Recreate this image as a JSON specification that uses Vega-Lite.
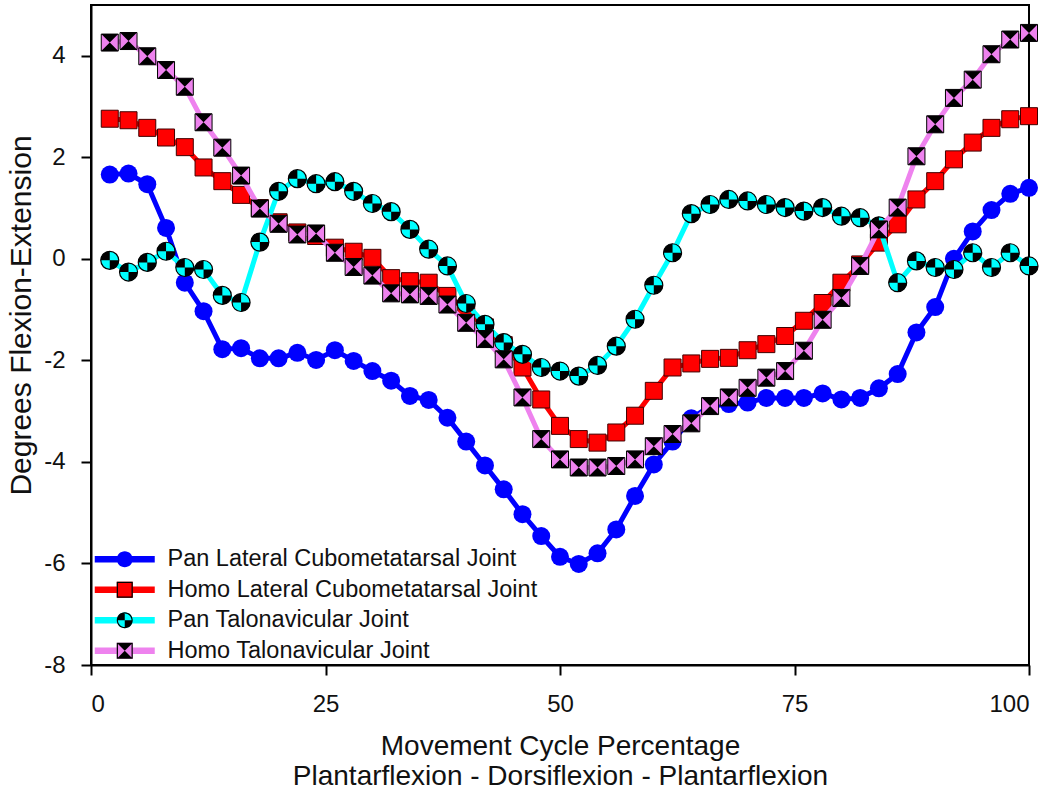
{
  "$schema": "https://vega.github.io/schema/vega-lite/v6.json",
  "autosize": {"type": "none"},
  "padding": {"left": 91, "top": 5, "right": 21, "bottom": 129},
  "width": 938,
  "height": 660,
  "background": "white",
  "config": {
    "font": "Liberation Sans",
    "view": {"stroke": "black", "strokeWidth": 2},
    "axis": {"grid": false, "domainColor": "black", "domainWidth": 2, "tickColor": "black", "tickWidth": 2, "labelColor": "#111", "titleColor": "#111", "titleFontWeight": "normal", "labelFont": "Liberation Sans", "titleFont": "Liberation Sans"}
  },
  "data": {"values": [
    {"series": "Pan Lateral Cubometatarsal Joint", "x": 2, "y": 1.66},
    {"series": "Pan Lateral Cubometatarsal Joint", "x": 4, "y": 1.68},
    {"series": "Pan Lateral Cubometatarsal Joint", "x": 6, "y": 1.47},
    {"series": "Pan Lateral Cubometatarsal Joint", "x": 8, "y": 0.61},
    {"series": "Pan Lateral Cubometatarsal Joint", "x": 10, "y": -0.47},
    {"series": "Pan Lateral Cubometatarsal Joint", "x": 12, "y": -1.03},
    {"series": "Pan Lateral Cubometatarsal Joint", "x": 14, "y": -1.78},
    {"series": "Pan Lateral Cubometatarsal Joint", "x": 16, "y": -1.76},
    {"series": "Pan Lateral Cubometatarsal Joint", "x": 18, "y": -1.96},
    {"series": "Pan Lateral Cubometatarsal Joint", "x": 20, "y": -1.96},
    {"series": "Pan Lateral Cubometatarsal Joint", "x": 22, "y": -1.85},
    {"series": "Pan Lateral Cubometatarsal Joint", "x": 24, "y": -1.99},
    {"series": "Pan Lateral Cubometatarsal Joint", "x": 26, "y": -1.8},
    {"series": "Pan Lateral Cubometatarsal Joint", "x": 28, "y": -2.01},
    {"series": "Pan Lateral Cubometatarsal Joint", "x": 30, "y": -2.21},
    {"series": "Pan Lateral Cubometatarsal Joint", "x": 32, "y": -2.4},
    {"series": "Pan Lateral Cubometatarsal Joint", "x": 34, "y": -2.7},
    {"series": "Pan Lateral Cubometatarsal Joint", "x": 36, "y": -2.78},
    {"series": "Pan Lateral Cubometatarsal Joint", "x": 38, "y": -3.13},
    {"series": "Pan Lateral Cubometatarsal Joint", "x": 40, "y": -3.6},
    {"series": "Pan Lateral Cubometatarsal Joint", "x": 42, "y": -4.07},
    {"series": "Pan Lateral Cubometatarsal Joint", "x": 44, "y": -4.54},
    {"series": "Pan Lateral Cubometatarsal Joint", "x": 46, "y": -5.03},
    {"series": "Pan Lateral Cubometatarsal Joint", "x": 48, "y": -5.46},
    {"series": "Pan Lateral Cubometatarsal Joint", "x": 50, "y": -5.87},
    {"series": "Pan Lateral Cubometatarsal Joint", "x": 52, "y": -6.01},
    {"series": "Pan Lateral Cubometatarsal Joint", "x": 54, "y": -5.8},
    {"series": "Pan Lateral Cubometatarsal Joint", "x": 56, "y": -5.33},
    {"series": "Pan Lateral Cubometatarsal Joint", "x": 58, "y": -4.67},
    {"series": "Pan Lateral Cubometatarsal Joint", "x": 60, "y": -4.05},
    {"series": "Pan Lateral Cubometatarsal Joint", "x": 62, "y": -3.6},
    {"series": "Pan Lateral Cubometatarsal Joint", "x": 64, "y": -3.14},
    {"series": "Pan Lateral Cubometatarsal Joint", "x": 66, "y": -2.9},
    {"series": "Pan Lateral Cubometatarsal Joint", "x": 68, "y": -2.86},
    {"series": "Pan Lateral Cubometatarsal Joint", "x": 70, "y": -2.83},
    {"series": "Pan Lateral Cubometatarsal Joint", "x": 72, "y": -2.74},
    {"series": "Pan Lateral Cubometatarsal Joint", "x": 74, "y": -2.74},
    {"series": "Pan Lateral Cubometatarsal Joint", "x": 76, "y": -2.74},
    {"series": "Pan Lateral Cubometatarsal Joint", "x": 78, "y": -2.65},
    {"series": "Pan Lateral Cubometatarsal Joint", "x": 80, "y": -2.77},
    {"series": "Pan Lateral Cubometatarsal Joint", "x": 82, "y": -2.74},
    {"series": "Pan Lateral Cubometatarsal Joint", "x": 84, "y": -2.55},
    {"series": "Pan Lateral Cubometatarsal Joint", "x": 86, "y": -2.27},
    {"series": "Pan Lateral Cubometatarsal Joint", "x": 88, "y": -1.45},
    {"series": "Pan Lateral Cubometatarsal Joint", "x": 90, "y": -0.95},
    {"series": "Pan Lateral Cubometatarsal Joint", "x": 92, "y": 0.0},
    {"series": "Pan Lateral Cubometatarsal Joint", "x": 94, "y": 0.54},
    {"series": "Pan Lateral Cubometatarsal Joint", "x": 96, "y": 0.96},
    {"series": "Pan Lateral Cubometatarsal Joint", "x": 98, "y": 1.28},
    {"series": "Pan Lateral Cubometatarsal Joint", "x": 100, "y": 1.4},
    {"series": "Homo Lateral Cubometatarsal Joint", "x": 2, "y": 2.76},
    {"series": "Homo Lateral Cubometatarsal Joint", "x": 4, "y": 2.73},
    {"series": "Homo Lateral Cubometatarsal Joint", "x": 6, "y": 2.58},
    {"series": "Homo Lateral Cubometatarsal Joint", "x": 8, "y": 2.39},
    {"series": "Homo Lateral Cubometatarsal Joint", "x": 10, "y": 2.2},
    {"series": "Homo Lateral Cubometatarsal Joint", "x": 12, "y": 1.8},
    {"series": "Homo Lateral Cubometatarsal Joint", "x": 14, "y": 1.53},
    {"series": "Homo Lateral Cubometatarsal Joint", "x": 16, "y": 1.26},
    {"series": "Homo Lateral Cubometatarsal Joint", "x": 18, "y": 1.0},
    {"series": "Homo Lateral Cubometatarsal Joint", "x": 20, "y": 0.72},
    {"series": "Homo Lateral Cubometatarsal Joint", "x": 22, "y": 0.52},
    {"series": "Homo Lateral Cubometatarsal Joint", "x": 24, "y": 0.45},
    {"series": "Homo Lateral Cubometatarsal Joint", "x": 26, "y": 0.22},
    {"series": "Homo Lateral Cubometatarsal Joint", "x": 28, "y": 0.14},
    {"series": "Homo Lateral Cubometatarsal Joint", "x": 30, "y": 0.02},
    {"series": "Homo Lateral Cubometatarsal Joint", "x": 32, "y": -0.38},
    {"series": "Homo Lateral Cubometatarsal Joint", "x": 34, "y": -0.44},
    {"series": "Homo Lateral Cubometatarsal Joint", "x": 36, "y": -0.47},
    {"series": "Homo Lateral Cubometatarsal Joint", "x": 38, "y": -0.73},
    {"series": "Homo Lateral Cubometatarsal Joint", "x": 40, "y": -1.0},
    {"series": "Homo Lateral Cubometatarsal Joint", "x": 42, "y": -1.35},
    {"series": "Homo Lateral Cubometatarsal Joint", "x": 44, "y": -1.7},
    {"series": "Homo Lateral Cubometatarsal Joint", "x": 46, "y": -2.14},
    {"series": "Homo Lateral Cubometatarsal Joint", "x": 48, "y": -2.77},
    {"series": "Homo Lateral Cubometatarsal Joint", "x": 50, "y": -3.29},
    {"series": "Homo Lateral Cubometatarsal Joint", "x": 52, "y": -3.55},
    {"series": "Homo Lateral Cubometatarsal Joint", "x": 54, "y": -3.62},
    {"series": "Homo Lateral Cubometatarsal Joint", "x": 56, "y": -3.42},
    {"series": "Homo Lateral Cubometatarsal Joint", "x": 58, "y": -3.09},
    {"series": "Homo Lateral Cubometatarsal Joint", "x": 60, "y": -2.6},
    {"series": "Homo Lateral Cubometatarsal Joint", "x": 62, "y": -2.14},
    {"series": "Homo Lateral Cubometatarsal Joint", "x": 64, "y": -2.06},
    {"series": "Homo Lateral Cubometatarsal Joint", "x": 66, "y": -1.97},
    {"series": "Homo Lateral Cubometatarsal Joint", "x": 68, "y": -1.95},
    {"series": "Homo Lateral Cubometatarsal Joint", "x": 70, "y": -1.8},
    {"series": "Homo Lateral Cubometatarsal Joint", "x": 72, "y": -1.68},
    {"series": "Homo Lateral Cubometatarsal Joint", "x": 74, "y": -1.52},
    {"series": "Homo Lateral Cubometatarsal Joint", "x": 76, "y": -1.22},
    {"series": "Homo Lateral Cubometatarsal Joint", "x": 78, "y": -0.87},
    {"series": "Homo Lateral Cubometatarsal Joint", "x": 80, "y": -0.47},
    {"series": "Homo Lateral Cubometatarsal Joint", "x": 82, "y": -0.11},
    {"series": "Homo Lateral Cubometatarsal Joint", "x": 84, "y": 0.32},
    {"series": "Homo Lateral Cubometatarsal Joint", "x": 86, "y": 0.68},
    {"series": "Homo Lateral Cubometatarsal Joint", "x": 88, "y": 1.17},
    {"series": "Homo Lateral Cubometatarsal Joint", "x": 90, "y": 1.53},
    {"series": "Homo Lateral Cubometatarsal Joint", "x": 92, "y": 1.96},
    {"series": "Homo Lateral Cubometatarsal Joint", "x": 94, "y": 2.29},
    {"series": "Homo Lateral Cubometatarsal Joint", "x": 96, "y": 2.58},
    {"series": "Homo Lateral Cubometatarsal Joint", "x": 98, "y": 2.75},
    {"series": "Homo Lateral Cubometatarsal Joint", "x": 100, "y": 2.81},
    {"series": "Pan Talonavicular Joint", "x": 2, "y": -0.03},
    {"series": "Pan Talonavicular Joint", "x": 4, "y": -0.26},
    {"series": "Pan Talonavicular Joint", "x": 6, "y": -0.07},
    {"series": "Pan Talonavicular Joint", "x": 8, "y": 0.15},
    {"series": "Pan Talonavicular Joint", "x": 10, "y": -0.17},
    {"series": "Pan Talonavicular Joint", "x": 12, "y": -0.21},
    {"series": "Pan Talonavicular Joint", "x": 14, "y": -0.72},
    {"series": "Pan Talonavicular Joint", "x": 16, "y": -0.86},
    {"series": "Pan Talonavicular Joint", "x": 18, "y": 0.33},
    {"series": "Pan Talonavicular Joint", "x": 20, "y": 1.33},
    {"series": "Pan Talonavicular Joint", "x": 22, "y": 1.58},
    {"series": "Pan Talonavicular Joint", "x": 24, "y": 1.48},
    {"series": "Pan Talonavicular Joint", "x": 26, "y": 1.52},
    {"series": "Pan Talonavicular Joint", "x": 28, "y": 1.33},
    {"series": "Pan Talonavicular Joint", "x": 30, "y": 1.09},
    {"series": "Pan Talonavicular Joint", "x": 32, "y": 0.93},
    {"series": "Pan Talonavicular Joint", "x": 34, "y": 0.58},
    {"series": "Pan Talonavicular Joint", "x": 36, "y": 0.19},
    {"series": "Pan Talonavicular Joint", "x": 38, "y": -0.14},
    {"series": "Pan Talonavicular Joint", "x": 40, "y": -0.88},
    {"series": "Pan Talonavicular Joint", "x": 42, "y": -1.29},
    {"series": "Pan Talonavicular Joint", "x": 44, "y": -1.65},
    {"series": "Pan Talonavicular Joint", "x": 46, "y": -1.88},
    {"series": "Pan Talonavicular Joint", "x": 48, "y": -2.14},
    {"series": "Pan Talonavicular Joint", "x": 50, "y": -2.21},
    {"series": "Pan Talonavicular Joint", "x": 52, "y": -2.31},
    {"series": "Pan Talonavicular Joint", "x": 54, "y": -2.1},
    {"series": "Pan Talonavicular Joint", "x": 56, "y": -1.72},
    {"series": "Pan Talonavicular Joint", "x": 58, "y": -1.19},
    {"series": "Pan Talonavicular Joint", "x": 60, "y": -0.52},
    {"series": "Pan Talonavicular Joint", "x": 62, "y": 0.12},
    {"series": "Pan Talonavicular Joint", "x": 64, "y": 0.89},
    {"series": "Pan Talonavicular Joint", "x": 66, "y": 1.07},
    {"series": "Pan Talonavicular Joint", "x": 68, "y": 1.17},
    {"series": "Pan Talonavicular Joint", "x": 70, "y": 1.14},
    {"series": "Pan Talonavicular Joint", "x": 72, "y": 1.07},
    {"series": "Pan Talonavicular Joint", "x": 74, "y": 1.01},
    {"series": "Pan Talonavicular Joint", "x": 76, "y": 0.94},
    {"series": "Pan Talonavicular Joint", "x": 78, "y": 1.01},
    {"series": "Pan Talonavicular Joint", "x": 80, "y": 0.84},
    {"series": "Pan Talonavicular Joint", "x": 82, "y": 0.81},
    {"series": "Pan Talonavicular Joint", "x": 84, "y": 0.65},
    {"series": "Pan Talonavicular Joint", "x": 86, "y": -0.47},
    {"series": "Pan Talonavicular Joint", "x": 88, "y": -0.04},
    {"series": "Pan Talonavicular Joint", "x": 90, "y": -0.17},
    {"series": "Pan Talonavicular Joint", "x": 92, "y": -0.21},
    {"series": "Pan Talonavicular Joint", "x": 94, "y": 0.12},
    {"series": "Pan Talonavicular Joint", "x": 96, "y": -0.17},
    {"series": "Pan Talonavicular Joint", "x": 98, "y": 0.12},
    {"series": "Pan Talonavicular Joint", "x": 100, "y": -0.14},
    {"series": "Homo Talonavicular Joint", "x": 2, "y": 4.26},
    {"series": "Homo Talonavicular Joint", "x": 4, "y": 4.29},
    {"series": "Homo Talonavicular Joint", "x": 6, "y": 3.99},
    {"series": "Homo Talonavicular Joint", "x": 8, "y": 3.72},
    {"series": "Homo Talonavicular Joint", "x": 10, "y": 3.39},
    {"series": "Homo Talonavicular Joint", "x": 12, "y": 2.69},
    {"series": "Homo Talonavicular Joint", "x": 14, "y": 2.19},
    {"series": "Homo Talonavicular Joint", "x": 16, "y": 1.64},
    {"series": "Homo Talonavicular Joint", "x": 18, "y": 0.99},
    {"series": "Homo Talonavicular Joint", "x": 20, "y": 0.69},
    {"series": "Homo Talonavicular Joint", "x": 22, "y": 0.48},
    {"series": "Homo Talonavicular Joint", "x": 24, "y": 0.5},
    {"series": "Homo Talonavicular Joint", "x": 26, "y": 0.12},
    {"series": "Homo Talonavicular Joint", "x": 28, "y": -0.16},
    {"series": "Homo Talonavicular Joint", "x": 30, "y": -0.33},
    {"series": "Homo Talonavicular Joint", "x": 32, "y": -0.68},
    {"series": "Homo Talonavicular Joint", "x": 34, "y": -0.7},
    {"series": "Homo Talonavicular Joint", "x": 36, "y": -0.73},
    {"series": "Homo Talonavicular Joint", "x": 38, "y": -0.9},
    {"series": "Homo Talonavicular Joint", "x": 40, "y": -1.26},
    {"series": "Homo Talonavicular Joint", "x": 42, "y": -1.58},
    {"series": "Homo Talonavicular Joint", "x": 44, "y": -1.98},
    {"series": "Homo Talonavicular Joint", "x": 46, "y": -2.73},
    {"series": "Homo Talonavicular Joint", "x": 48, "y": -3.55},
    {"series": "Homo Talonavicular Joint", "x": 50, "y": -3.95},
    {"series": "Homo Talonavicular Joint", "x": 52, "y": -4.11},
    {"series": "Homo Talonavicular Joint", "x": 54, "y": -4.11},
    {"series": "Homo Talonavicular Joint", "x": 56, "y": -4.08},
    {"series": "Homo Talonavicular Joint", "x": 58, "y": -3.95},
    {"series": "Homo Talonavicular Joint", "x": 60, "y": -3.69},
    {"series": "Homo Talonavicular Joint", "x": 62, "y": -3.45},
    {"series": "Homo Talonavicular Joint", "x": 64, "y": -3.24},
    {"series": "Homo Talonavicular Joint", "x": 66, "y": -2.9},
    {"series": "Homo Talonavicular Joint", "x": 68, "y": -2.73},
    {"series": "Homo Talonavicular Joint", "x": 70, "y": -2.54},
    {"series": "Homo Talonavicular Joint", "x": 72, "y": -2.34},
    {"series": "Homo Talonavicular Joint", "x": 74, "y": -2.21},
    {"series": "Homo Talonavicular Joint", "x": 76, "y": -1.81},
    {"series": "Homo Talonavicular Joint", "x": 78, "y": -1.2},
    {"series": "Homo Talonavicular Joint", "x": 80, "y": -0.77},
    {"series": "Homo Talonavicular Joint", "x": 82, "y": -0.14},
    {"series": "Homo Talonavicular Joint", "x": 84, "y": 0.58},
    {"series": "Homo Talonavicular Joint", "x": 86, "y": 1.01},
    {"series": "Homo Talonavicular Joint", "x": 88, "y": 2.02},
    {"series": "Homo Talonavicular Joint", "x": 90, "y": 2.65},
    {"series": "Homo Talonavicular Joint", "x": 92, "y": 3.17},
    {"series": "Homo Talonavicular Joint", "x": 94, "y": 3.53},
    {"series": "Homo Talonavicular Joint", "x": 96, "y": 4.03},
    {"series": "Homo Talonavicular Joint", "x": 98, "y": 4.32},
    {"series": "Homo Talonavicular Joint", "x": 100, "y": 4.45}
  ]},
  "encoding": {
    "x": {"field": "x", "type": "quantitative", "scale": {"domain": [0, 100], "nice": false, "zero": false},
      "axis": {"values": [0, 25, 50, 75, 100], "title": ["Movement Cycle Percentage", "Plantarflexion - Dorsiflexion - Plantarflexion"], "tickSize": 10, "labelPadding": 17, "labelFontSize": 24, "titleFontSize": 28, "titleLineHeight": 30, "titlePadding": 16}},
    "y": {"field": "y", "type": "quantitative", "scale": {"domain": [-8, 5], "nice": false, "zero": false},
      "axis": {"values": [-8, -6, -4, -2, 0, 2, 4], "labelExpr": "replace(datum.label, '\u2212', '-')", "title": "Degrees Flexion-Extension", "tickSize": 10, "labelPadding": 16, "labelFontSize": 24, "titleFontSize": 30, "titlePadding": 7, "titleY": 310}}
  },
  "layer": [
    {"transform": [{"filter": {"field": "series", "equal": "Pan Lateral Cubometatarsal Joint"}}],
     "mark": {"type": "line", "color": "#0000ff", "strokeWidth": 5}},
    {"transform": [{"filter": {"field": "series", "equal": "Pan Lateral Cubometatarsal Joint"}}],
     "mark": {"type": "point", "shape": "circle", "filled": true, "opacity": 1, "color": "#0000ff", "size": 324}},
    {"transform": [{"filter": {"field": "series", "equal": "Homo Lateral Cubometatarsal Joint"}}],
     "mark": {"type": "line", "color": "#ff0000", "strokeWidth": 5}},
    {"transform": [{"filter": {"field": "series", "equal": "Homo Lateral Cubometatarsal Joint"}}],
     "mark": {"type": "point", "shape": "square", "filled": true, "opacity": 1, "fill": "#ff0000", "stroke": "#400000", "strokeWidth": 1, "size": 289}},
    {"transform": [{"filter": {"field": "series", "equal": "Pan Talonavicular Joint"}}],
     "mark": {"type": "line", "color": "#00ffff", "strokeWidth": 5}},
    {"transform": [{"filter": {"field": "series", "equal": "Pan Talonavicular Joint"}}],
     "mark": {"type": "point", "shape": "circle", "filled": true, "opacity": 1, "fill": "#00ffff", "stroke": "#000000", "strokeWidth": 1.2, "size": 324}},
    {"transform": [{"filter": {"field": "series", "equal": "Pan Talonavicular Joint"}}],
     "mark": {"type": "point", "shape": "M0,0L-1,0A1,1 0 0,1 0,-1Z M0,0L1,0A1,1 0 0,1 0,1Z", "filled": true, "opacity": 1, "fill": "#000000", "strokeWidth": 0, "size": 324}},
    {"transform": [{"filter": {"field": "series", "equal": "Homo Talonavicular Joint"}}],
     "mark": {"type": "line", "color": "#ee82ee", "strokeWidth": 5}},
    {"transform": [{"filter": {"field": "series", "equal": "Homo Talonavicular Joint"}}],
     "mark": {"type": "point", "shape": "square", "filled": true, "opacity": 1, "fill": "#ee82ee", "stroke": "#000000", "strokeWidth": 1, "size": 289}},
    {"transform": [{"filter": {"field": "series", "equal": "Homo Talonavicular Joint"}}],
     "mark": {"type": "point", "shape": "M-1,-1L1,-1L0,0Z M1,1L-1,1L0,0Z", "filled": true, "opacity": 1, "fill": "#000000", "strokeWidth": 0, "size": 289}},
    {"mark": {"type": "point", "filled": true, "opacity": 0},
     "encoding": {
       "fill": {"field": "series", "type": "nominal",
         "scale": {"domain": ["Pan Lateral Cubometatarsal Joint", "Homo Lateral Cubometatarsal Joint", "Pan Talonavicular Joint", "Homo Talonavicular Joint"], "range": ["#0000ff", "#ff0000", "#00ffff", "#ee82ee"]},
         "legend": {"orient": "none", "legendX": 22, "legendY": 542.5, "direction": "vertical", "title": null, "padding": 0, "labelFontSize": 23.5, "labelFont": "Liberation Sans", "labelColor": "#111", "labelLimit": 700, "labelOffset": 31, "symbolOffset": 0, "symbolSize": 256, "symbolStrokeWidth": 0, "symbolOpacity": 1, "rowPadding": 5.5, "encode": {"symbols": {"update": {"opacity": {"value": 1}}}}}},
       "shape": {"field": "series", "type": "nominal",
         "scale": {"domain": ["Pan Lateral Cubometatarsal Joint", "Homo Lateral Cubometatarsal Joint", "Pan Talonavicular Joint", "Homo Talonavicular Joint"],
           "range": ["M-3.75,-0.4H3.75V0.4H-3.75Z M1,0A1,1 0 1,1 -1,0A1,1 0 1,1 1,0Z", "M-3.75,-0.4H3.75V0.4H-3.75Z M-1,-1H1V1H-1Z", "M-3.75,-0.4H3.75V0.4H-3.75Z M1,0A1,1 0 1,1 -1,0A1,1 0 1,1 1,0Z", "M-3.75,-0.4H3.75V0.4H-3.75Z M-1,-1H1V1H-1Z"]},
         "legend": {"orient": "none", "legendX": 22, "legendY": 542.5, "direction": "vertical", "title": null, "padding": 0, "labelFontSize": 23.5, "labelFont": "Liberation Sans", "labelColor": "#111", "labelLimit": 700, "labelOffset": 31, "symbolOffset": 0, "symbolSize": 256, "symbolStrokeWidth": 0, "symbolOpacity": 1, "rowPadding": 5.5, "encode": {"symbols": {"update": {"opacity": {"value": 1}}}}}}
     }},
    {"mark": {"type": "point", "filled": true, "opacity": 0, "fill": "#000000"},
     "encoding": {
       "shape": {"field": "series", "type": "nominal",
         "scale": {"domain": ["Pan Lateral Cubometatarsal Joint", "Homo Lateral Cubometatarsal Joint", "Pan Talonavicular Joint", "Homo Talonavicular Joint"],
           "range": ["M0,0L0.01,0L0,0.01Z", "M-1,-1H1V1H-1Z M-0.85,-0.85V0.85H0.85V-0.85Z", "M1,0A1,1 0 1,1 -1,0A1,1 0 1,1 1,0Z M0.85,0A0.85,0.85 0 1,0 -0.85,0A0.85,0.85 0 1,0 0.85,0Z M0,0L-1,0A1,1 0 0,1 0,-1Z M0,0L1,0A1,1 0 0,1 0,1Z", "M-1,-1H1V1H-1Z M-0.85,-0.85V0.85H0.85V-0.85Z M-1,-1L1,-1L0,0Z M1,1L-1,1L0,0Z"]},
         "legend": {"orient": "none", "legendX": 22, "legendY": 542.5, "direction": "vertical", "title": null, "padding": 0, "labelFontSize": 23.5, "labelFont": "Liberation Sans", "labelColor": "transparent", "labelOpacity": 0, "labelLimit": 700, "labelOffset": 31, "symbolOffset": 0, "symbolSize": 256, "symbolStrokeWidth": 0, "symbolFillColor": "#000000", "symbolOpacity": 1, "rowPadding": 5.5, "encode": {"symbols": {"update": {"opacity": {"value": 1}, "fill": {"value": "#000000"}}}}}}
     }}
  ],
  "resolve": {"scale": {"shape": "independent", "fill": "independent"}, "legend": {"shape": "independent", "fill": "independent"}}
}
